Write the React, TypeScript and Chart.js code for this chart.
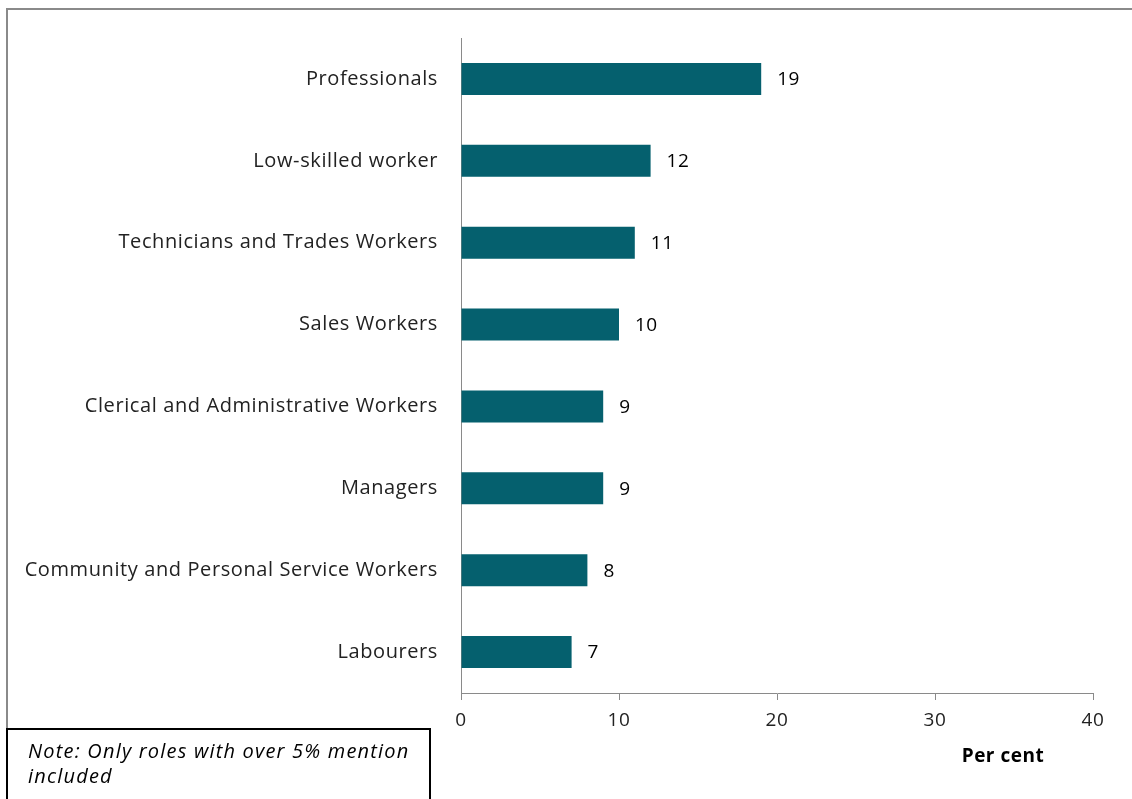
import React, { useEffect, useRef } from "react";
import { Chart, registerables } from "chart.js";

Chart.register(...registerables);

const categories = [
  "Professionals",
  "Low-skilled worker",
  "Technicians and Trades Workers",
  "Sales Workers",
  "Clerical and Administrative Workers",
  "Managers",
  "Community and Personal Service Workers",
  "Labourers",
];
const values = [19, 12, 11, 10, 9, 9, 8, 7];
const xTicks = [0, 10, 20, 30, 40];
const axisTitle = "Per cent";
const noteLines = ["Note: Only roles with over 5% mention", "included"];

const FONT = "'Open Sans', 'Liberation Sans', sans-serif";

export default function App() {
  const ref = useRef<HTMLCanvasElement | null>(null);
  useEffect(() => {
    document.body.style.margin = "0";
    const canvas = ref.current!;
    const decor = {
      id: "decor",
      beforeDraw(chart: any) {
        const ctx = chart.ctx;
        ctx.save();
        ctx.fillStyle = "#ffffff";
        ctx.fillRect(0, 0, chart.width, chart.height);
        ctx.restore();
        ctx.letterSpacing = "0.6px";
      },
      afterDraw(chart: any) {
        const ctx = chart.ctx;
        const xs = chart.scales.x;
        ctx.save();
        // outer frame
        ctx.letterSpacing = "0px";
        ctx.strokeStyle = "#8a8a8a";
        ctx.lineWidth = 2;
        ctx.beginPath();
        ctx.moveTo(7, 799);
        ctx.lineTo(7, 9);
        ctx.lineTo(1132, 9);
        ctx.stroke();
        // data labels
        const meta = chart.getDatasetMeta(0);
        ctx.fillStyle = "#000000";
        ctx.letterSpacing = "0.5px";
        ctx.font = `19px ${FONT}`;
        ctx.textAlign = "left";
        ctx.textBaseline = "middle";
        meta.data.forEach((bar: any, i: number) => {
          ctx.fillText(String(values[i]), bar.x + 16, bar.y + 1);
        });
        // axis title
        ctx.font = `bold 19px ${FONT}`;
        ctx.textAlign = "center";
        ctx.fillText(axisTitle, xs.getPixelForValue(34.3), 757);
        // note box
        ctx.fillStyle = "#ffffff";
        ctx.fillRect(7, 729, 423, 72);
        ctx.strokeStyle = "#000000";
        ctx.lineWidth = 2;
        ctx.strokeRect(7, 729, 423, 80);
        ctx.fillStyle = "#000000";
        ctx.letterSpacing = "1.2px";
        ctx.font = `italic 20px ${FONT}`;
        ctx.textAlign = "left";
        noteLines.forEach((t, i) => ctx.fillText(t, 28, 752 + i * 25));
        ctx.restore();
      },
    };
    const chart = new Chart(canvas, {
      type: "bar",
      data: {
        labels: categories,
        datasets: [
          {
            data: values,
            backgroundColor: "#05606e",
            borderWidth: 0,
            categoryPercentage: 1,
            barPercentage: 0.39,
          },
        ],
      },
      options: {
        indexAxis: "y",
        responsive: false,
        animation: false,
        layout: { padding: { left: 8, right: 39, top: 38, bottom: 60 } },
        plugins: { legend: { display: false }, tooltip: { enabled: false } },
        scales: {
          x: {
            min: 0,
            max: 40,
            afterBuildTicks: (s: any) => {
              s.ticks = xTicks.map((v) => ({ value: v }));
            },
            afterFit: (s: any) => {
              s.height = 46;
            },
            grid: {
              drawOnChartArea: false,
              drawTicks: true,
              tickLength: 7,
              color: "#8a8a8a",
            },
            border: { display: true, color: "#8a8a8a", width: 1 },
            ticks: {
              color: "#222222",
              font: { family: FONT, size: 19 },
              padding: 9,
            },
          },
          y: {
            afterFit: (s: any) => {
              s.width = 453;
            },
            grid: { display: false },
            border: { display: true, color: "#8a8a8a", width: 1 },
            ticks: {
              color: "#222222",
              font: { family: FONT, size: 20 },
              padding: 15,
            },
          },
        },
      },
      plugins: [decor],
    });
    return () => chart.destroy();
  }, []);
  return <canvas ref={ref} width={1132} height={799} style={{ display: "block" }} />;
}
